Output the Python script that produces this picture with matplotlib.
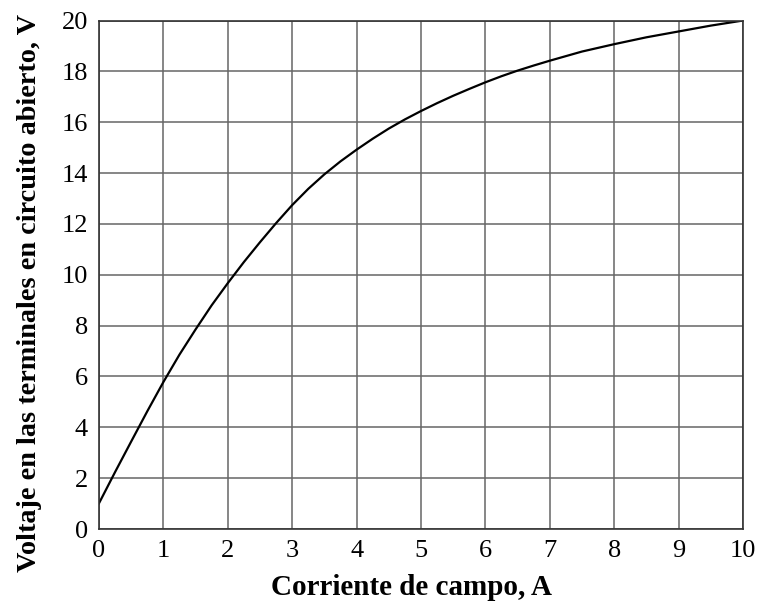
import matplotlib.pyplot as plt
import numpy as np

# Points (hand-smoothed readings)
field_current = [0, 0.25, 0.5, 0.75, 1.0, 1.25, 1.5, 1.75, 2.0, 2.25, 2.5, 2.75,
                 3.0, 3.25, 3.5, 3.75, 4.0, 4.25, 4.5, 4.75, 5.0, 5.25, 5.5, 5.75,
                 6.0, 6.25, 6.5, 6.75, 7.0, 7.5, 8.0, 8.5, 9.0, 9.5, 10.0]
open_circuit_v = [1.01, 2.24, 3.44, 4.63, 5.78, 6.86, 7.85, 8.80, 9.67, 10.50, 11.28, 12.03,
                  12.74, 13.38, 13.95, 14.46, 14.92, 15.35, 15.75, 16.11, 16.44, 16.75, 17.04, 17.31,
                  17.57, 17.81, 18.03, 18.23, 18.42, 18.78, 19.07, 19.34, 19.57, 19.80, 20.0]

x_ticks = np.arange(0, 11, 1)
y_ticks = np.arange(0, 21, 2)

plt.rcParams['font.family'] = 'Liberation Serif'

fig = plt.figure(figsize=(7.59, 6.11), dpi=100)
ax = fig.add_axes([0.1304, 0.1342, 0.8485, 0.8322])

ax.plot(field_current, open_circuit_v, color='black', linewidth=1.6,
        solid_joinstyle='round')

ax.set_xlim(0, 10)
ax.set_ylim(0, 20)
ax.set_xticks(x_ticks)
ax.set_yticks(y_ticks)
ax.grid(True, color='#666666', linewidth=1.1)
ax.tick_params(length=0, labelsize=19, pad=8)
for s in ax.spines.values():
    s.set_color('#333333')
    s.set_linewidth(1.2)

ax.set_xlabel('Corriente de campo, A', fontsize=21, fontweight='bold')
ax.set_ylabel('Voltaje en las terminales en circuito abierto, V', fontsize=20.3, fontweight='bold')
ax.xaxis.set_label_coords(0.486, -0.088)
ax.yaxis.set_label_coords(-0.089, 0.464)

plt.savefig('out.png', dpi=100)
